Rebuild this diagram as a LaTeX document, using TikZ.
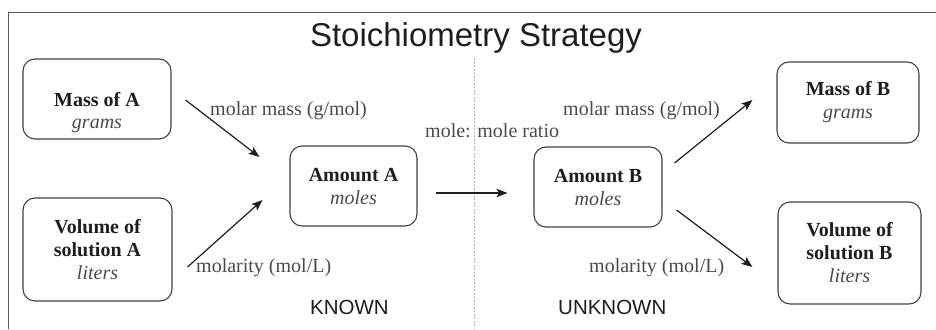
\documentclass[tikz,border=0pt]{standalone}
\usepackage{fontspec}
\setmainfont{Liberation Serif}
\newfontfamily\headfont{Liberation Sans}
\usetikzlibrary{arrows.meta,calc}

\definecolor{ink}{HTML}{1E1E1E}
\definecolor{soft}{HTML}{4A4A4A}
\definecolor{framecol}{HTML}{5A5A5A}
\definecolor{dotcol}{HTML}{B4B4B4}

% lighter italic unit line inside a box
\newcommand\unitword[1]{{\mdseries\itshape\color{soft}#1}}

\begin{document}
\begin{tikzpicture}[x=1pt,y=-1pt,
  box/.style={draw=ink!85, line width=1.1pt, rounded corners=12pt,
    inner sep=0pt, align=center, text=ink,
    font=\fontsize{20}{23}\selectfont\bfseries},
  boxtext/.style={inner sep=0pt, align=center, text=ink,
    font=\fontsize{20}{22}\selectfont\bfseries},
  lbl/.style={inner sep=0pt, anchor=base west, text=soft,
    font=\fontsize{20}{24}\selectfont},
  side/.style={inner sep=0pt, anchor=base west, text=ink,
    font=\headfont\fontsize{20.5}{24}\selectfont},
  head/.style={inner sep=0pt, anchor=base, text=ink,
    font=\headfont\fontsize{33}{38}\selectfont},
  conn/.style={draw=ink, line width=1.2pt,
    -{Stealth[length=11pt,width=8.5pt,inset=2.5pt]}}
]
\useasboundingbox (0,0) rectangle (936,329);

% frame edges
\draw[framecol, line width=1pt] (936,13) -- (8,13) -- (8,329);

% divider between known and unknown sides
\draw[dotcol, line width=0.8pt, dash pattern=on 2pt off 1.5pt] (474,58) -- (474,329);

% title
\node[head] (title) at (476,47) {Stoichiometry Strategy};

% quantity boxes
\node[box, minimum width=148pt, minimum height=80pt] (massA) at (97,99) {};
\node[boxtext] (massAtext) at (97,113) {Mass of A\\\unitword{grams}};
\node[box, minimum width=149pt, minimum height=103pt] (volA) at (97.5,249.5)
  {Volume of\\solution A\\\unitword{liters}};
\node[box, minimum width=127pt, minimum height=80pt] (amtA) at (353.5,186)
  {Amount A\\\unitword{moles}};
\node[box, minimum width=128pt, minimum height=80pt] (amtB) at (598,187)
  {Amount B\\\unitword{moles}};
\node[box, minimum width=142pt, minimum height=81pt] (massB) at (848,102.5)
  {Mass of B\\\unitword{grams}};
\node[box, minimum width=143pt, minimum height=102pt] (volB) at (849.5,253)
  {Volume of\\solution B\\\unitword{liters}};

% conversion labels
\node[lbl] (mmA) at (210,115) {molar mass (g/mol)};
\node[lbl] (ratio) at (425,137) {mole: mole ratio};
\node[lbl] (mmB) at (563,115) {molar mass (g/mol)};
\node[lbl] (molA) at (196,272) {molarity (mol/L)};
\node[lbl] (molB) at (589,272) {molarity (mol/L)};

% side captions
\node[side] (known) at (310,314) {KNOWN};
\node[side] (unknown) at (558,314) {UNKNOWN};

% conversion arrows
\draw[conn] ($(massA.east)+(14,1)$) -- ($(amtA.west)+(-30,-29)$);
\draw[conn] ($(volA.east)+(15,17.5)$) -- ($(amtA.west)+(-27,14)$);
\draw[conn] ($(amtA.east)+(18,7)$) -- ($(amtB.west)+(-26,6)$);
\draw[conn] ($(amtB.east)+(12,-24)$) -- ($(massB.west)+(-24,-2.5)$);
\draw[conn] ($(amtB.east)+(14,23)$) -- ($(volB.west)+(-25,14)$);
\end{tikzpicture}
\end{document}
